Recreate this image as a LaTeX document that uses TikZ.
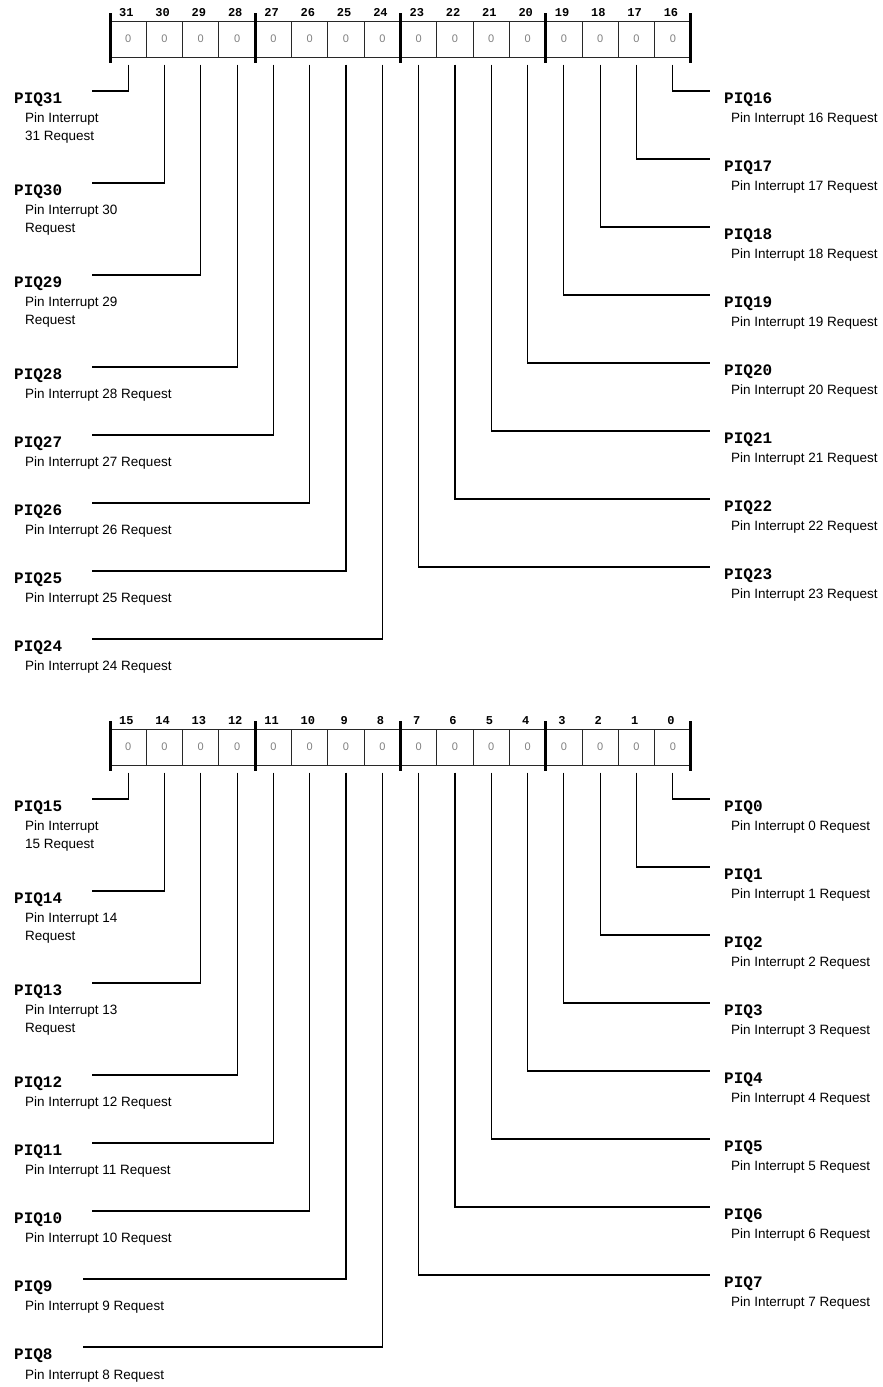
\documentclass[tikz,border=0pt]{standalone}
\usepackage{fontspec}
\setmainfont{Liberation Sans}
\newfontfamily\regmono{Liberation Mono}
\usepackage{tikz}
\usetikzlibrary{positioning, calc}
\usepackage{xcolor}
\definecolor{RegGray}{RGB}{128, 128, 128}
\definecolor{RegEdge}{RGB}{40, 40, 40}
\tikzset{
  bitcell/.style={rectangle, draw=RegEdge, line width=1pt, fill=white,
                  minimum width=36.31pt, minimum height=36pt, inner sep=0pt,
                  font=\fontsize{11}{11}\selectfont, text=RegGray},
  bitnum/.style={inner sep=0pt, anchor=base,
                 font=\regmono\bfseries\fontsize{12}{12}\selectfont},
  piqname/.style={inner sep=0pt, anchor=base west,
                  font=\regmono\bfseries\fontsize{16}{16}\selectfont},
  piqdesc/.style={inner sep=0pt, anchor=north west, align=left,
                  font=\fontsize{13.5}{18}\selectfont},
  nibble/.style={line width=3pt},
  wire/.style={line width=1.1pt},
}
\begin{document}
\begin{tikzpicture}[x=1pt, y=-1pt]
  \useasboundingbox (0,0) rectangle (883,1387);

  %% REGISTERS (bits 31..16 on top, 15..0 below)
  \foreach \oy/\hi in {0/31, 708/15} {
    \foreach \k in {0,...,15} {
      \pgfmathtruncatemacro\bit{\hi-\k}
      \node[bitcell] (b\bit) at (128.155+36.31*\k, 39+\oy) {0};
      \node[bitnum] (n\bit) at (126.3+36.31*\k, 16+\oy) {\bit};
    }
    \foreach \k in {0,4,...,16}
      \draw[nibble] (110+36.31*\k, 13+\oy) -- (110+36.31*\k, 63+\oy);
  }

  %% LEFT FIELDS
  \foreach \bit/\y/\desc in {
      31/91/{Pin Interrupt\\31 Request}, 30/183/{Pin Interrupt 30\\Request},
      29/275/{Pin Interrupt 29\\Request}, 28/367/{Pin Interrupt 28 Request},
      27/435/{Pin Interrupt 27 Request}, 26/503/{Pin Interrupt 26 Request},
      25/571/{Pin Interrupt 25 Request}, 24/639/{Pin Interrupt 24 Request},
      15/799/{Pin Interrupt\\15 Request}, 14/891/{Pin Interrupt 14\\Request},
      13/983/{Pin Interrupt 13\\Request}, 12/1075/{Pin Interrupt 12 Request},
      11/1143/{Pin Interrupt 11 Request}, 10/1211/{Pin Interrupt 10 Request},
      9/1279/{Pin Interrupt 9 Request}, 8/1347/{Pin Interrupt 8 Request}} {
    \node[piqname] (q\bit) at (14, \y+12) {PIQ\bit};
    \node[piqdesc] (d\bit) at (25, \y+22) {\desc};
    \draw[wire] ([yshift=-7pt]b\bit.south) |- ([xshift=30pt, yshift=12pt]q\bit.base east);
  }

  %% RIGHT FIELDS
  \foreach \bit/\y in {16/91, 17/159, 18/227, 19/295, 20/363, 21/431, 22/499, 23/567,
                       0/799, 1/867, 2/935, 3/1003, 4/1071, 5/1139, 6/1207, 7/1275} {
    \node[piqname] (q\bit) at (724, \y+12) {PIQ\bit};
    \node[piqdesc] (d\bit) at (731, \y+22) {Pin Interrupt \bit{} Request};
    \draw[wire] ([yshift=-7pt]b\bit.south) |- ([xshift=-14pt, yshift=12pt]q\bit.base west);
  }

\end{tikzpicture}
\end{document}
